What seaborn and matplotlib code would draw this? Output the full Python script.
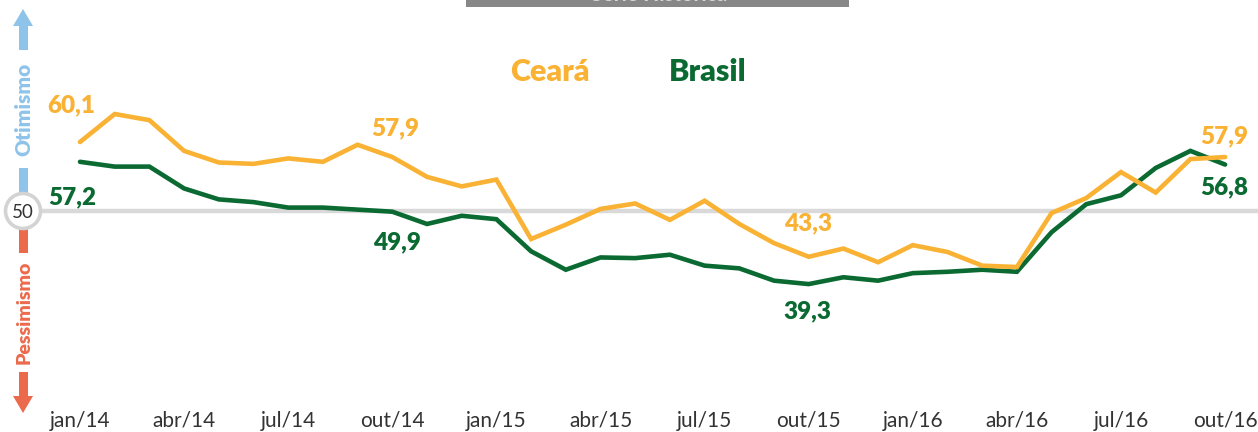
import matplotlib
matplotlib.use("Agg")
import matplotlib.pyplot as plt
import seaborn as sns
import pandas as pd
from matplotlib.patches import Rectangle, Circle, Polygon

# ---------------- data ----------------
months = ["jan/14", "fev/14", "mar/14", "abr/14", "mai/14", "jun/14", "jul/14", "ago/14",
          "set/14", "out/14", "nov/14", "dez/14", "jan/15", "fev/15", "mar/15", "abr/15",
          "mai/15", "jun/15", "jul/15", "ago/15", "set/15", "out/15", "nov/15", "dez/15",
          "jan/16", "fev/16", "mar/16", "abr/16", "mai/16", "jun/16", "jul/16", "ago/16",
          "set/16", "out/16"]
ceara = [60.1, 64.2, 63.3, 58.8, 57.1, 56.9, 57.7, 57.2, 59.7, 57.9, 55.0, 53.6,
         54.6, 45.9, 48.0, 50.3, 51.1, 48.7, 51.5, 48.1, 45.3, 43.3, 44.5, 42.5,
         45.0, 44.0, 42.0, 41.8, 49.7, 51.9, 55.7, 52.7, 57.6, 57.9]
brasil = [57.2, 56.5, 56.5, 53.3, 51.7, 51.3, 50.5, 50.5, 50.2, 49.9, 48.1, 49.3,
          48.8, 44.1, 41.4, 43.2, 43.1, 43.6, 42.0, 41.6, 39.8, 39.3, 40.3, 39.8,
          40.9, 41.1, 41.4, 41.1, 46.9, 51.0, 52.3, 56.3, 58.8, 56.8]
tick_labels = ["jan/14", "abr/14", "jul/14", "out/14", "jan/15", "abr/15",
               "jul/15", "out/15", "jan/16", "abr/16", "jul/16", "out/16"]
series_names = ["Ceará", "Brasil"]
label_idx = [0, 9, 21, 33]
neutral = 50

# ---------------- style ----------------
ORANGE = "#F9B234"
GREEN = "#0A6A32"
BLUE = "#8EC3EA"
RED = "#EC6A4C"
GREY = "#D9D9D9"
TXT = "#333333"

sns.set_style("white")
plt.rcParams["font.family"] = ["Lato", "DejaVu Sans"]

W, H = 1258, 432
fig = plt.figure(figsize=(W / 100, H / 100), dpi=100)
fig.patch.set_facecolor("white")

# main axes: spans pixel rows 0..405
ax_bottom_px = 405
ax = fig.add_axes([0, (H - ax_bottom_px) / H, 1, ax_bottom_px / H])
ppu = 6.83          # pixels per index point
y50 = 211           # pixel row of 50
ax.set_ylim(neutral - (ax_bottom_px - y50) / ppu, neutral + y50 / ppu)
x0, dx = 80, 34.7   # pixel of first month, pixels per month
ax.set_xlim(-x0 / dx, (W - x0) / dx)

df = pd.DataFrame({
    "m": list(range(len(months))) * 2,
    "v": brasil + ceara,
    "s": ["Brasil"] * len(months) + ["Ceará"] * len(months),
})

ax.axhline(neutral, color=GREY, lw=3.2, zorder=1, xmin=40 / W)
sns.lineplot(data=df, x="m", y="v", hue="s", hue_order=["Brasil", "Ceará"],
             palette={"Ceará": ORANGE, "Brasil": GREEN}, lw=3.3, legend=False,
             ax=ax, zorder=3, solid_joinstyle="miter")

for a in ax.spines.values():
    a.set_visible(False)
ax.set_xlabel("")
ax.set_ylabel("")
ax.set_yticks([])
ax.set_xticks(range(0, len(months), 3))
ax.set_xticklabels(tick_labels, fontsize=15, color=TXT)
ax.tick_params(axis="x", length=0, pad=4)
ax.set_facecolor("none")

def fmt(v):
    return f"{v:.1f}".replace(".", ",")

c_off = {0: (-9, 37), 9: (3, 29), 21: (-1, 33), 33: (-1, 21)}
b_off = {0: (-8, -35), 9: (5, -31), 21: (-1, -27), 33: (-1, -23)}
for i in label_idx:
    ax.annotate(fmt(ceara[i]), (i, ceara[i]), xytext=c_off[i], textcoords="offset pixels",
                ha="center", va="center", fontsize=17.5, fontweight="heavy", color=ORANGE)
    ax.annotate(fmt(brasil[i]), (i, brasil[i]), xytext=b_off[i], textcoords="offset pixels",
                ha="center", va="center", fontsize=17.5, fontweight="heavy", color=GREEN)

# ---------------- overlay decorations (pixel coordinates) ----------------
ov = fig.add_axes([0, 0, 1, 1], zorder=5)
ov.set_xlim(0, W)
ov.set_ylim(H, 0)
ov.axis("off")
ov.patch.set_alpha(0)

# title bar (cut at the top edge, as in the source)
ov.add_patch(Rectangle((466, -20), 383, 27, color="#878787", lw=0))
ov.text(659, -5, "Série Histórica", color="#D8D8D8", fontsize=15, ha="center",
        va="center", fontweight="bold")

# legend
ov.text(550, 81, series_names[0], color=ORANGE, fontsize=22, fontweight="heavy",
        ha="center", va="baseline")
ov.text(708, 81, series_names[1], color=GREEN, fontsize=22, fontweight="heavy",
        ha="center", va="baseline")

cx = 23
# optimism arrow
ov.add_patch(Polygon([(cx - 10, 26), (cx + 10, 26), (cx, 9)], color=BLUE, lw=0))
ov.add_patch(Rectangle((cx - 4.5, 25), 9, 25, color=BLUE, lw=0))
ov.add_patch(Rectangle((cx - 4.5, 168), 9, 26, color=BLUE, lw=0))
ov.text(cx + 1, 109, "Otimismo", rotation=90, color=BLUE, fontsize=15,
        fontweight="heavy", ha="center", va="center")
# pessimism arrow
ov.add_patch(Rectangle((cx - 4.5, 228), 9, 25, color=RED, lw=0))
ov.add_patch(Rectangle((cx - 4.5, 372), 9, 25, color=RED, lw=0))
ov.add_patch(Polygon([(cx - 10, 396), (cx + 10, 396), (cx, 413)], color=RED, lw=0))
ov.text(cx + 1, 312, "Pessimismo", rotation=90, color=RED, fontsize=14,
        fontweight="heavy", ha="center", va="center")
# 50 circle
ov.add_patch(Circle((cx, 211), 17.5, facecolor="white", edgecolor="#D3D3D3", lw=2.6))
ov.text(cx, 212, "50", fontsize=13.5, color=TXT, ha="center", va="center")

fig.savefig("out.png", dpi=100)
